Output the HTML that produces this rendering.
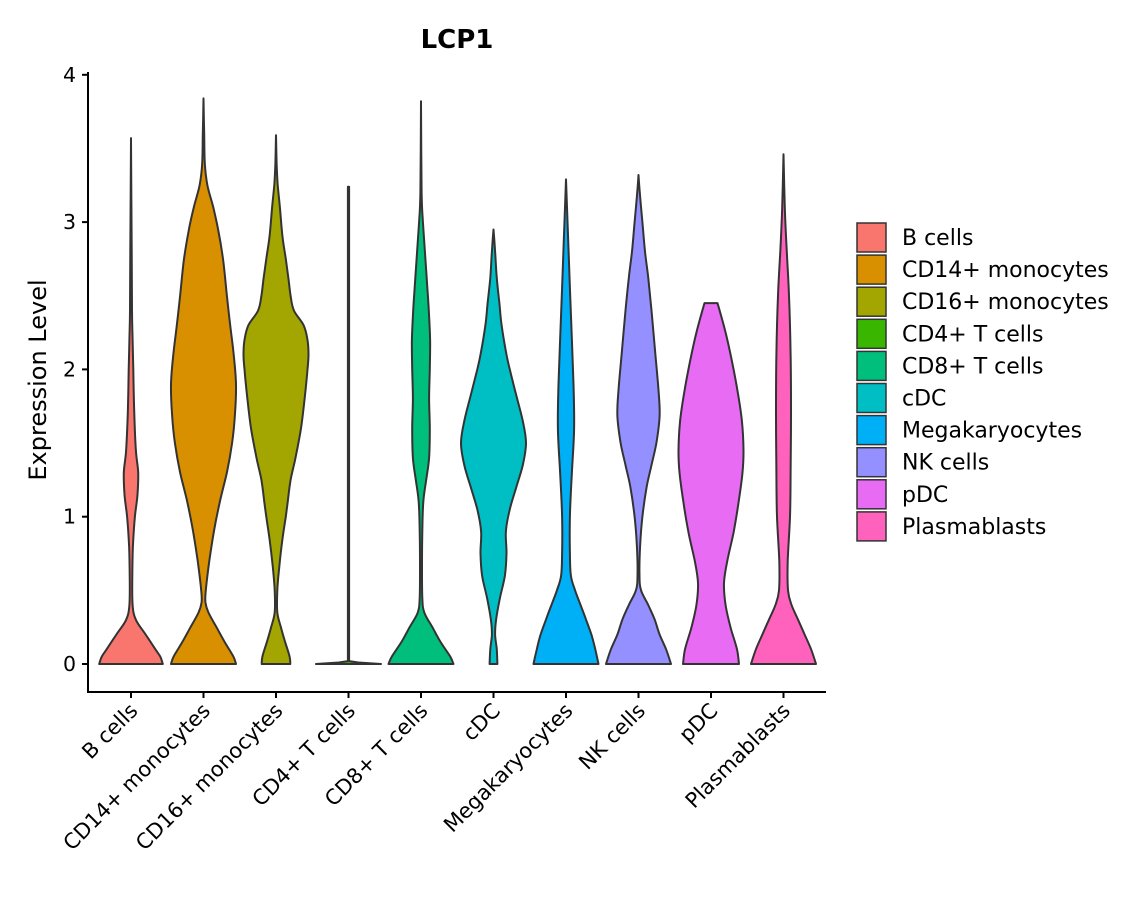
<!DOCTYPE html>
<html><head><meta charset="utf-8"><style>
html,body{margin:0;padding:0;background:#fff;}
svg{display:block;font-family:"DejaVu Sans","Liberation Sans",sans-serif;}
</style></head><body>
<svg id="chart" width="1140" height="900" viewBox="0 0 1140 900" xmlns="http://www.w3.org/2000/svg">
<text x="457" y="48" text-anchor="middle" font-size="26" font-weight="bold">LCP1</text>
<text transform="translate(46,380) rotate(-90)" text-anchor="middle" font-size="24">Expression Level</text>
<g id="plot"></g>
<g id="legend"></g>
</svg>
<script>
const categories = ["B cells","CD14+ monocytes","CD16+ monocytes","CD4+ T cells","CD8+ T cells","cDC","Megakaryocytes","NK cells","pDC","Plasmablasts"];
const colors = ["#F8766D","#D89000","#A3A500","#39B600","#00BF7D","#00BFC4","#00B0F6","#9590FF","#E76BF3","#FF62BC"];
const yTicks = [0,1,2,3,4];
// density profiles: [expression value, relative half-width]
const profBcells = [[0,0.98],[0.05,0.9],[0.1,0.75],[0.2,0.45],[0.3,0.15],[0.4,0.05],[0.6,0.04],[0.8,0.06],[1.0,0.12],[1.15,0.2],[1.3,0.22],[1.45,0.15],[1.7,0.1],[2.0,0.07],[2.2,0.05],[2.4,0.03],[2.8,0.02],[3.57,0]];
const profCD14 = [[0,1.0],[0.05,0.92],[0.15,0.65],[0.25,0.4],[0.35,0.15],[0.42,0.06],[0.5,0.07],[0.7,0.18],[0.9,0.32],[1.1,0.5],[1.3,0.72],[1.5,0.88],[1.7,0.97],[1.9,1.0],[2.1,0.93],[2.3,0.82],[2.5,0.72],[2.75,0.6],[2.95,0.45],[3.1,0.3],[3.25,0.12],[3.4,0.04],[3.6,0.02],[3.84,0]];
const profCD16 = [[0,0.44],[0.05,0.42],[0.15,0.28],[0.25,0.15],[0.35,0.04],[0.5,0.04],[0.66,0.1],[0.85,0.2],[1.0,0.3],[1.1,0.36],[1.25,0.45],[1.4,0.6],[1.6,0.77],[1.8,0.88],[2.0,0.97],[2.1,1.0],[2.2,0.97],[2.3,0.85],[2.4,0.55],[2.5,0.45],[2.62,0.38],[2.75,0.3],[2.9,0.2],[3.1,0.12],[3.26,0.05],[3.4,0.02],[3.59,0]];
const profCD4 = [[0,1.0],[0.01,0.3],[0.02,0.02],[3.24,0.02],[3.24,0]];
const profCD8 = [[0,1.0],[0.05,0.9],[0.15,0.6],[0.25,0.35],[0.35,0.1],[0.45,0.04],[0.7,0.03],[0.9,0.04],[1.1,0.07],[1.25,0.16],[1.4,0.25],[1.6,0.27],[1.8,0.25],[2.0,0.27],[2.2,0.28],[2.4,0.24],[2.6,0.18],[2.8,0.12],[3.0,0.06],[3.2,0.02],[3.82,0]];
const profCDC = [[0,0.12],[0.1,0.1],[0.2,0.05],[0.3,0.08],[0.45,0.2],[0.6,0.35],[0.75,0.4],[0.9,0.38],[1.05,0.5],[1.2,0.7],[1.35,0.9],[1.5,1.0],[1.65,0.9],[1.85,0.67],[2.0,0.5],[2.1,0.4],[2.3,0.25],[2.45,0.18],[2.62,0.1],[2.8,0.05],[2.95,0]];
const profMega = [[0,1.0],[0.1,0.9],[0.2,0.78],[0.3,0.62],[0.4,0.45],[0.5,0.28],[0.6,0.15],[0.75,0.12],[1.0,0.12],[1.3,0.18],[1.6,0.25],[1.9,0.23],[2.2,0.18],[2.5,0.13],[2.8,0.08],[3.1,0.03],[3.29,0]];
const profNK = [[0,1.0],[0.1,0.85],[0.2,0.65],[0.3,0.5],[0.4,0.3],[0.5,0.08],[0.6,0.03],[0.8,0.05],[1.0,0.12],[1.2,0.25],[1.35,0.4],[1.5,0.55],[1.68,0.65],[1.85,0.62],[2.1,0.52],[2.4,0.4],[2.62,0.3],[2.8,0.2],[3.0,0.12],[3.2,0.04],[3.32,0]];
const profPDC = [[0,0.86],[0.1,0.8],[0.25,0.6],[0.4,0.45],[0.55,0.4],[0.7,0.5],[0.9,0.7],[1.1,0.85],[1.3,0.97],[1.45,1.0],[1.65,0.95],[1.85,0.82],[2.05,0.65],[2.25,0.45],[2.45,0.2],[2.45,0]];
const profPlasma = [[0,1.0],[0.1,0.85],[0.2,0.65],[0.3,0.45],[0.4,0.25],[0.5,0.14],[0.7,0.13],[1.0,0.2],[1.3,0.22],[1.7,0.23],[2.1,0.22],[2.5,0.17],[2.8,0.1],[3.1,0.04],[3.46,0]];
const profiles = [profBcells,profCD14,profCD16,profCD4,profCD8,profCDC,profMega,profNK,profPDC,profPlasma];

const NS = "http://www.w3.org/2000/svg";
const plot = document.getElementById('plot');
const legend = document.getElementById('legend');
function yScale(v){ return 664 - v*147.3; }
function xScale(i){ return 131 + i*72.5; }
const HALF = 32.5;
function mk(tag, attrs, parent){ const e=document.createElementNS(NS,tag); for(const k in attrs) e.setAttribute(k,attrs[k]); parent.appendChild(e); return e; }
function smooth(pts){
  let s = "";
  for(let k=0;k<pts.length-1;k++){
    const p1=pts[k], p2=pts[k+1];
    if(Math.abs(p2[1]-p1[1])<4){ s += `L${p2[0].toFixed(1)},${p2[1].toFixed(1)}`; continue; }
    const p0=(k>0 && Math.abs(pts[k-1][1]-p1[1])>=4)?pts[k-1]:p1;
    const p3=(k+2<pts.length && Math.abs(pts[k+2][1]-p2[1])>=4)?pts[k+2]:p2;
    const c1=[p1[0]+(p2[0]-p0[0])/6, p1[1]+(p2[1]-p0[1])/6];
    const c2=[p2[0]-(p3[0]-p1[0])/6, p2[1]-(p3[1]-p1[1])/6];
    s += `C${c1[0].toFixed(1)},${c1[1].toFixed(1)} ${c2[0].toFixed(1)},${c2[1].toFixed(1)} ${p2[0].toFixed(1)},${p2[1].toFixed(1)}`;
  }
  return s;
}

profiles.forEach((p,i)=>{
  const cx = xScale(i);
  const right = p.map(([v,w])=>[cx+w*HALF, yScale(v)]);
  const left = p.slice().reverse().map(([v,w])=>[cx-w*HALF, yScale(v)]);
  const d = `M${right[0][0].toFixed(1)},${right[0][1].toFixed(1)}` + smooth(right) +
            `L${left[0][0].toFixed(1)},${left[0][1].toFixed(1)}` + smooth(left) + "Z";
  const path = mk('path',{d:d, fill:colors[i], stroke:"#333", "stroke-width":"2", "stroke-linejoin":"round"}, plot);
  
  
});

// axes
const ax = mk('line',{x1:88,y1:72,x2:88,y2:692,stroke:"#000","stroke-width":2},plot);


const axx = mk('line',{x1:87,y1:692,x2:826,y2:692,stroke:"#000","stroke-width":2},plot);


yTicks.forEach(t=>{
  const y=yScale(t);
  mk('line',{x1:82,y1:y,x2:88,y2:y,stroke:"#000","stroke-width":2},plot);
  const tx = mk('text',{x:76,y:y+7,"text-anchor":"end","font-size":20.5},plot);
  tx.textContent=t;
  
  
});
categories.forEach((c,i)=>{
  const x=xScale(i);
  mk('line',{x1:x,y1:692,x2:x,y2:698,stroke:"#000","stroke-width":2},plot);
  const tx = mk('text',{transform:`translate(${x+8},${712}) rotate(-45)`,"text-anchor":"end","font-size":21},plot);
  tx.textContent=c;
  
  
  // legend
  const ly = 223 + i*32.1;
  const r = mk('rect',{x:857,y:ly,width:29,height:29,fill:colors[i],stroke:"#333","stroke-width":1.5},legend);
  
  
  const lt = mk('text',{x:902,y:ly+22,"font-size":22},legend);
  lt.textContent=c;
  
  
});
</script>
</body></html>
